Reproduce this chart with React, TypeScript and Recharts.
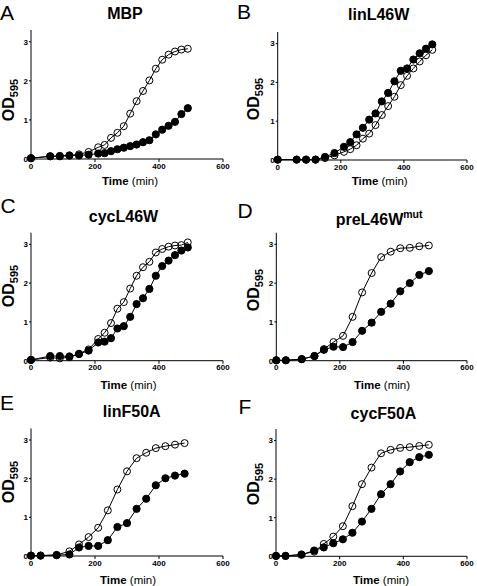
import React from 'react';
import { LineChart, Line, XAxis, YAxis } from 'recharts';

// sampling times (min)
const timesLong = [0, 60, 90, 120, 150, 180, 210, 230, 250, 270, 290, 310, 330, 350, 370, 390, 410, 430, 450, 470, 490];
const timesShort = [0, 30, 80, 120, 150, 180, 210, 240, 270, 300, 330, 360, 390, 420, 450, 480];

// OD595 readings, open circles / filled circles
const mbpOpen = [0.02, 0.07, 0.08, 0.09, 0.12, 0.18, 0.30, 0.36, 0.54, 0.67, 0.84, 1.16, 1.48, 1.74, 2.01, 2.31, 2.54, 2.67, 2.75, 2.80, 2.82];
const mbpFilled = [0.02, 0.07, 0.07, 0.09, 0.09, 0.11, 0.14, 0.15, 0.20, 0.25, 0.29, 0.33, 0.37, 0.43, 0.48, 0.63, 0.75, 0.85, 0.95, 1.15, 1.30];

const linL46WOpen = [0.01, 0.01, 0.01, 0.01, 0.05, 0.12, 0.21, 0.28, 0.38, 0.55, 0.68, 0.90, 1.16, 1.39, 1.63, 1.93, 2.17, 2.36, 2.54, 2.70, 2.84];
const linL46WFilled = [0.01, 0.01, 0.01, 0.01, 0.08, 0.18, 0.34, 0.46, 0.66, 0.83, 1.04, 1.20, 1.51, 1.73, 2.03, 2.30, 2.36, 2.59, 2.75, 2.87, 2.98];

const cycL46WOpen = [0.02, 0.08, 0.06, 0.09, 0.18, 0.29, 0.56, 0.72, 0.97, 1.34, 1.51, 1.86, 2.19, 2.41, 2.55, 2.79, 2.88, 2.94, 2.97, 2.98, 3.05];
const cycL46WFilled = [0.02, 0.12, 0.12, 0.11, 0.17, 0.26, 0.47, 0.49, 0.58, 0.83, 0.89, 1.13, 1.46, 1.61, 1.85, 2.19, 2.44, 2.58, 2.72, 2.84, 2.92];

const preL46WOpen = [0.01, 0.01, 0.04, 0.12, 0.30, 0.48, 0.64, 1.13, 1.76, 2.26, 2.67, 2.81, 2.90, 2.91, 2.95, 2.97];
const preL46WFilled = [0.01, 0.01, 0.04, 0.12, 0.28, 0.36, 0.35, 0.48, 0.77, 0.98, 1.26, 1.47, 1.79, 2.00, 2.21, 2.31];

const linF50AOpen = [0.01, 0.01, 0.03, 0.12, 0.30, 0.49, 0.73, 1.18, 1.72, 2.19, 2.53, 2.67, 2.79, 2.84, 2.88, 2.92];
const linF50AFilled = [0.01, 0.01, 0.02, 0.04, 0.22, 0.26, 0.26, 0.41, 0.75, 0.85, 1.22, 1.48, 1.83, 2.01, 2.08, 2.13];

const cycF50AOpen = [0.01, 0.01, 0.05, 0.12, 0.32, 0.51, 0.78, 1.30, 1.87, 2.30, 2.67, 2.76, 2.81, 2.83, 2.86, 2.89];
const cycF50AFilled = [0.01, 0.01, 0.04, 0.15, 0.23, 0.34, 0.44, 0.61, 0.90, 1.23, 1.61, 1.87, 2.20, 2.44, 2.57, 2.63];

const xTicks = [0, 200, 400, 600];
const yTicks = [0, 1, 2, 3];

const rows = (times: number[], open: number[], filled: number[]) =>
  times.map((t, i) => ({ t, open: open[i], filled: filled[i] }));

type Layout = {
  box: [number, number];
  plot: { l: number; t: number; w: number; h: number };
  letter: [number, number];
  title: [number, number];
  od: [number, number];
  time: [number, number];
};

const panels: { letter: string; title: string; sup?: string; data: any[]; lay: Layout }[] = [
  { letter: 'A', title: 'MBP', data: rows(timesLong, mbpOpen, mbpFilled),
    lay: { box: [0, 0], plot: { l: 31, t: 30, w: 192, h: 129 }, letter: [0, 19.5], title: [125, 18.5], od: [13.5, 100], time: [130, 185] } },
  { letter: 'B', title: 'linL46W', data: rows(timesLong, linL46WOpen, linL46WFilled),
    lay: { box: [237, 0], plot: { l: 40.7, t: 32, w: 189.3, h: 128 }, letter: [0, 19], title: [141.7, 20], od: [22, 99], time: [142.7, 185] } },
  { letter: 'C', title: 'cycL46W', data: rows(timesLong, cycL46WOpen, cycL46WFilled),
    lay: { box: [0, 195], plot: { l: 31, t: 37.7, w: 192, h: 128 }, letter: [0.5, 18], title: [123.5, 26.5], od: [13.5, 91], time: [128.5, 193.5] } },
  { letter: 'D', title: 'preL46W', sup: 'mut', data: rows(timesShort, preL46WOpen, preL46WFilled),
    lay: { box: [237, 195], plot: { l: 39.3, t: 37.7, w: 190.7, h: 128 }, letter: [0.5, 22.5], title: [98.7, 30], od: [22, 95], time: [145, 193.5] } },
  { letter: 'E', title: 'linF50A', data: rows(timesShort, linF50AOpen, linF50AFilled),
    lay: { box: [0, 390], plot: { l: 31, t: 38.4, w: 192, h: 127.6 }, letter: [0, 20], title: [131.7, 26.7], od: [13.5, 92], time: [128, 194] } },
  { letter: 'F', title: 'cycF50A', data: rows(timesShort, cycF50AOpen, cycF50AFilled),
    lay: { box: [237, 390], plot: { l: 39, t: 39, w: 191, h: 127.3 }, letter: [1.5, 24], title: [146.5, 29], od: [22, 94], time: [144, 194] } },
];

const tickStyle = { fontSize: 8, fontWeight: 'bold', fill: '#000' };

function Panel({ letter, title, sup, data, lay }: typeof panels[number]) {
  const { plot } = lay;
  const W = plot.l + plot.w + 12;
  const H = plot.t + plot.h + 30;
  return (
    <div style={{ position: 'absolute', left: lay.box[0], top: lay.box[1], width: 240, height: 196 }}>
      <LineChart width={W} height={H} data={data} margin={{ top: plot.t, right: 12, bottom: 0, left: 0 }}>
        <XAxis type="number" dataKey="t" domain={[0, 600]} ticks={xTicks} height={30}
          axisLine={{ stroke: '#000' }} tickLine={{ stroke: '#000' }} tickSize={3} tickMargin={1} tick={tickStyle} />
        <YAxis type="number" domain={[0, 3.3]} ticks={yTicks} width={plot.l}
          axisLine={{ stroke: '#000' }} tickLine={{ stroke: '#000' }} tickSize={2} tickMargin={1} tick={tickStyle} />
        <Line type="linear" dataKey="filled" stroke="#000" strokeWidth={1} isAnimationActive={false} activeDot={false}
          dot={{ r: 3.6, fill: '#000', stroke: '#000', strokeWidth: 1 }} />
        <Line type="linear" dataKey="open" stroke="#000" strokeWidth={1} isAnimationActive={false} activeDot={false}
          dot={{ r: 3.5, fill: 'none', stroke: '#000', strokeWidth: 1 }} />
      </LineChart>
      <svg width={240} height={200} style={{ position: 'absolute', left: 0, top: 0, pointerEvents: 'none', overflow: 'visible' }}>
        <text x={lay.letter[0]} y={lay.letter[1]} fontSize={21}>{letter}</text>
        <text x={lay.title[0]} y={lay.title[1]} fontSize={16} fontWeight="bold" textAnchor={sup ? 'start' : 'middle'}>
          {title}
          {sup && <tspan fontSize={10.5} dy={-7}>{sup}</tspan>}
        </text>
        <text x={lay.od[0]} y={lay.od[1]} transform={`rotate(-90 ${lay.od[0]} ${lay.od[1]})`}
          textAnchor="middle" fontSize={16} fontWeight="bold">
          OD<tspan fontSize={11} dy={4}>595</tspan>
        </text>
        <text x={lay.time[0]} y={lay.time[1]} textAnchor="middle" fontSize={11.5}>
          <tspan fontWeight="bold">Time</tspan>{' (min)'}
        </text>
      </svg>
    </div>
  );
}

export default function App() {
  return (
    <div style={{ position: 'absolute', left: 0, top: 0, width: 477, height: 586, background: '#fff',
      fontFamily: '"Liberation Sans", Arial, sans-serif' }}>
      {panels.map(p => <Panel key={p.letter} {...p} />)}
    </div>
  );
}
